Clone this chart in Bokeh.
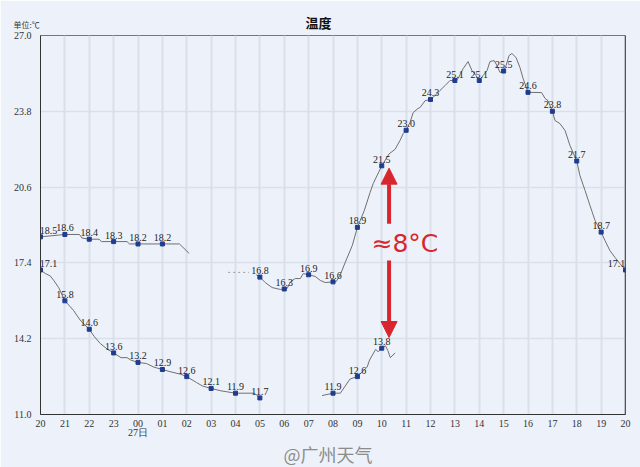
from bokeh.plotting import figure
from bokeh.models import (Range1d, FixedTicker, PrintfTickFormatter, Label, LabelSet,
                          ColumnDataSource, Arrow, NormalHead, Span, Title)
from bokeh.embed import file_html
from bokeh.resources import INLINE

# ---------------- data ----------------
HOUR_LABELS = ["20", "21", "22", "23", "00\n27日", "01", "02", "03", "04", "05", "06", "07",
               "08", "09", "10", "11", "12", "13", "14", "15", "16", "17", "18", "19", "20"]
Y_TICKS = [11.0, 14.2, 17.4, 20.6, 23.8, 27.0]

# series A (upper left line)
A_X = [0, 1, 1.6, 1.7, 2, 2.4, 2.5, 3, 3.55, 3.65, 4, 5, 5.7, 6.1]
A_Y = [18.5, 18.6, 18.6, 18.45, 18.4, 18.4, 18.3, 18.3, 18.3, 18.2, 18.2, 18.2, 18.2, 17.8]
A_PT_X = [0, 1, 2, 3, 4, 5]
A_PT_Y = [18.5, 18.6, 18.4, 18.3, 18.2, 18.2]

# series B (falling night line)
B_X = [0, 0.2, 0.4, 0.55, 0.75, 1, 1.35, 1.65, 2, 2.2, 2.45, 2.75, 3, 3.3, 3.55, 3.7,
       4, 4.35, 4.65, 5, 5.35, 5.75, 6, 6.4, 6.65, 7, 7.4, 8, 8.75, 8.9, 9]
B_Y = [17.1, 16.95, 16.85, 16.65, 16.35, 15.8, 15.4, 14.95, 14.6, 14.3, 14.0, 13.75, 13.6,
       13.4, 13.4, 13.3, 13.2, 13.15, 13.0, 12.9, 12.8, 12.7, 12.6, 12.35, 12.2, 12.1, 12.0,
       11.9, 11.9, 11.8, 11.7]
B_PT_X = [0, 1, 2, 3, 4, 5, 6, 7, 8, 9]
B_PT_Y = [17.1, 15.8, 14.6, 13.6, 13.2, 12.9, 12.6, 12.1, 11.9, 11.7]

# series C (day line)
LEAD_X = [7.7, 8.55]
LEAD_Y = [17.0, 17.0]
C_X = [8.85, 9, 9.22, 9.5, 9.84, 10, 10.12, 10.25, 10.45, 10.66, 10.78, 11, 11.27, 11.48,
       11.68, 12, 12.13, 12.3, 12.5, 12.79, 13, 13.28, 13.52, 13.65, 14, 14.3, 14.55, 14.75,
       14.88, 15, 15.16, 15.29, 15.49, 15.57, 15.78, 16, 16.19, 16.39, 16.6, 16.8, 17, 17.13,
       17.34, 17.54, 17.7, 17.87, 18, 18.16, 18.32, 18.44, 18.61, 18.73, 18.85, 19, 19.1,
       19.22, 19.34, 19.51, 19.67, 19.8, 20, 20.56, 20.7, 20.82, 21, 21.11, 21.31, 21.52,
       21.72, 22, 22.13, 22.34, 22.54, 22.75, 23, 23.16, 23.36, 23.57, 23.77, 24]
C_Y = [16.9, 16.8, 16.57, 16.36, 16.28, 16.3, 16.32, 16.6, 16.74, 16.74, 16.95, 16.9, 16.83,
       16.66, 16.57, 16.6, 16.61, 16.9, 17.42, 18.13, 18.9, 19.6, 20.37, 20.75, 21.5, 22.0,
       22.2, 22.57, 22.86, 23.0, 23.33, 23.75, 23.92, 23.96, 24.25, 24.3, 24.47, 24.68,
       24.89, 25.1, 25.1, 25.18, 25.6, 25.9, 25.52, 25.31, 25.1, 25.31, 25.52, 25.9, 25.94,
       25.73, 25.44, 25.5, 25.73, 26.15, 26.24, 26.07, 25.65, 25.18, 24.6, 24.59, 24.34,
       24.25, 23.8, 23.41, 23.28, 22.99, 22.36, 21.7, 21.09, 20.46, 19.83, 19.19, 18.7,
       18.34, 17.92, 17.63, 17.37, 17.1]
C_PT_X = [9, 10, 11, 12, 13, 14, 15, 16, 17, 18, 19, 20, 21, 22, 23, 24]
C_PT_Y = [16.8, 16.3, 16.9, 16.6, 18.9, 21.5, 23.0, 24.3, 25.1, 25.1, 25.5, 24.6, 23.8,
          21.7, 18.7, 17.1]

# series D (current morning line)
D_X = [11.55, 12, 12.3, 12.5, 12.7, 13, 13.4, 13.5, 13.75, 13.85, 14, 14.15, 14.25, 14.35, 14.55]
D_Y = [11.8, 11.9, 11.9, 12.2, 12.5, 12.6, 13.0, 13.3, 13.75, 13.65, 13.8, 13.9, 13.7, 13.4, 13.6]
D_PT_X = [12, 13, 14]
D_PT_Y = [11.9, 12.6, 13.8]

# annotation
ARROW_X = 14.3
ARROW_UP = (19.05, 21.4)
ARROW_DOWN = (17.5, 14.25)
NOTE_POS = (14.95, 18.2)
NOTE_TEXT = "≈8°C"
TITLE = "温度"
UNIT = "单位:℃"
WATERMARK = "@广州天气"

# ---------------- styling ----------------
BG = "#edf2fa"
LINE = "#6f6f6f"
MARK = "#1f3c8f"
RED = "#d8262e"
GRID = "#d9e0eb"

p = figure(width=640, height=467, output_backend="svg", toolbar_location=None,
           x_range=Range1d(0, 24), y_range=Range1d(11, 27), title=TITLE,
           min_border_left=40, min_border_right=15, min_border_top=35, min_border_bottom=53,
           background_fill_color=BG, border_fill_color=BG)
p.outline_line_color = "#777777"

# chart title (outer row, pulled down) and unit text (row closest to the frame)
p.title.align = "left"
p.title.offset = 265
p.title.standoff = -40
p.title.text_font = "Noto Sans CJK SC"
p.title.text_font_size = "13px"
p.title.text_font_style = "bold"
p.title.text_color = "#111111"
p.add_layout(Title(text=UNIT, align="left", offset=-27, standoff=11,
                   text_font="Noto Sans CJK SC", text_font_size="8px",
                   text_font_style="normal", text_color="#333333"), "above")

p.xaxis.ticker = FixedTicker(ticks=list(range(25)))
p.xaxis.major_label_overrides = {i: s for i, s in enumerate(HOUR_LABELS)}
p.yaxis.ticker = FixedTicker(ticks=Y_TICKS)
p.yaxis.formatter = PrintfTickFormatter(format="%.1f")
for ax in (p.xaxis[0], p.yaxis[0]):
    ax.axis_line_color = "#333333"
    ax.major_tick_line_color = None
    ax.minor_tick_line_color = None
    ax.major_label_text_font = "Liberation Serif"
    ax.major_label_text_font_size = "10px"
    ax.major_label_text_color = "#333333"
p.xaxis.major_label_standoff = -3
p.xaxis.major_label_text_line_height = 0.85
p.yaxis.major_label_standoff = 3

# watermark below the axis
p.add_layout(Title(text=WATERMARK, align="left", offset=243, standoff=-3,
                   text_font="Noto Sans CJK SC", text_font_size="18px",
                   text_font_style="normal", text_color="#8c8c8c"), "below")

p.xgrid.ticker = FixedTicker(ticks=list(range(25)))
p.xgrid.grid_line_color = GRID
p.xgrid.grid_line_width = 2
p.ygrid.ticker = FixedTicker(ticks=Y_TICKS)
p.ygrid.grid_line_color = GRID
p.ygrid.grid_line_width = 1.5

p.add_layout(Span(location=24, dimension="height", line_color="#333333", line_width=1.5))

# lines
p.line(LEAD_X, LEAD_Y, line_color="#9a9a9a", line_width=1, line_dash="2 3")
for xs, ys in ((A_X, A_Y), (B_X, B_Y), (C_X, C_Y), (D_X, D_Y)):
    p.line(xs, ys, line_color=LINE, line_width=1)

# markers and value labels
for px, py in ((A_PT_X, A_PT_Y), (B_PT_X, B_PT_Y), (C_PT_X, C_PT_Y), (D_PT_X, D_PT_Y)):
    p.scatter(px, py, marker="square", size=4, fill_color=MARK, line_color=MARK)
    dx = [8 if x == 0 else (-9 if x == 24 else 0) for x in px]
    src = ColumnDataSource(dict(x=px, y=py, dx=dx, t=[f"{v:.1f}" for v in py]))
    p.add_layout(LabelSet(x="x", y="y", text="t", source=src, x_offset="dx", y_offset=3,
                          text_align="center", text_baseline="bottom",
                          text_font="Liberation Serif", text_font_size="10px",
                          text_color="#222222"))

# red double arrow with note
for y0, y1 in (ARROW_UP, ARROW_DOWN):
    p.add_layout(Arrow(end=NormalHead(size=16, fill_color=RED, line_color=RED),
                       x_start=ARROW_X, y_start=y0, x_end=ARROW_X, y_end=y1,
                       line_color=RED, line_width=4))
p.add_layout(Label(x=NOTE_POS[0], y=NOTE_POS[1], text=NOTE_TEXT, text_align="center",
                   text_baseline="middle", text_font="DejaVu Sans", text_font_size="25px",
                   text_color=RED))

open("out.html", "w").write(file_html(p, INLINE))
